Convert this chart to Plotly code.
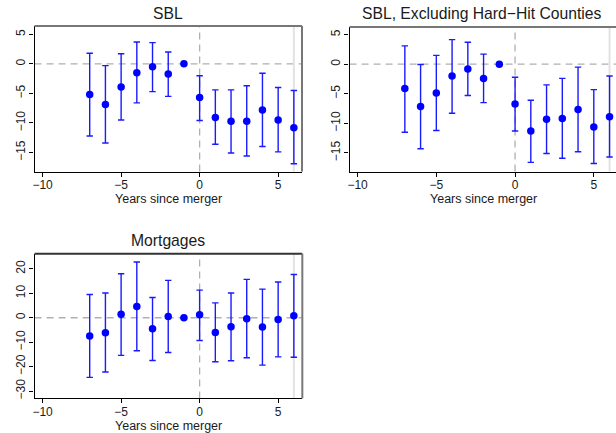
import plotly.graph_objects as go

# ---------------- data ----------------
years = [-7, -6, -5, -4, -3, -2, -1, 0, 1, 2, 3, 4, 5, 6]

sbl_est = [-5.2, -6.9, -3.9, -1.5, -0.5, -1.7, 0.0, -5.7, -9.1, -9.7, -9.7, -7.8, -9.5, -10.8]
sbl_hi = [1.8, -0.3, 1.7, 3.7, 3.6, 2.0, None, -2.0, -4.4, -4.4, -3.7, -1.6, -4.0, -4.5]
sbl_lo = [-12.2, -13.4, -9.5, -6.6, -4.7, -5.5, None, -9.6, -13.6, -15.1, -15.6, -14.0, -14.9, -16.9]

excl_est = [-4.1, -7.15, -4.85, -2.0, -0.8, -2.4, 0.0, -6.75, -11.3, -9.3, -9.2, -7.65, -10.6, -8.9]
excl_hi = [3.1, -0.05, 1.5, 4.15, 3.7, 1.7, None, -2.2, -6.1, -3.5, -2.4, -0.5, -4.3, -2.0]
excl_lo = [-11.5, -14.3, -11.2, -8.3, -5.3, -6.5, None, -11.3, -16.6, -15.1, -15.9, -14.8, -16.8, -15.7]

mort_est = [-7.5, -6.1, 1.4, 4.6, -4.5, 0.5, 0.0, 1.2, -6.0, -3.7, -0.4, -3.8, -0.7, 0.8]
mort_hi = [9.5, 10.1, 18.0, 22.8, 8.3, 15.3, None, 11.3, 6.1, 10.1, 15.7, 11.7, 14.6, 17.7]
mort_lo = [-24.4, -22.2, -15.4, -13.5, -17.5, -14.2, None, -9.3, -18.0, -17.6, -16.4, -19.4, -16.0, -16.2]

titles = ["SBL", "SBL, Excluding Hard\u2212Hit Counties", "Mortgages"]
x_label = "Years since merger"
x_ticks = [-10, -5, 0, 5]
sbl_y_ticks = [-15, -10, -5, 0, 5]
mort_y_ticks = [-30, -20, -10, 0, 10, 20]

# ---------------- layout helpers ----------------
W, H = 616, 433
FONT = "Liberation Sans, Arial, sans-serif"
TXT = "#1a1a1a"


def fx(px):
    return px / W


def fy(py):
    return 1 - py / H


def errs(est, hi, lo):
    plus = [None if h is None else h - e for e, h in zip(est, hi)]
    minus = [None if l is None else e - l for e, l in zip(est, lo)]
    return plus, minus


panels = [
    dict(est=sbl_est, hi=sbl_hi, lo=sbl_lo, title=titles[0], xd=(32.7, 301.0), yd=(26.0, 172.0),
         xr=(-10.51, 6.52), yr=(-18.24, 6.42), yt=sbl_y_ticks, tx=167, ty=14, lx=167,
         right=True, topc="#777777"),
    dict(est=excl_est, hi=excl_hi, lo=excl_lo, title=titles[1], xd=(348.7, 616.0), yd=(27.0, 172.0),
         xr=(-10.51, 6.41), yr=(-18.16, 6.30), yt=sbl_y_ticks, tx=482, ty=14, lx=483,
         right=False, topc="#777777"),
    dict(est=mort_est, hi=mort_hi, lo=mort_lo, title=titles[2], xd=(32.7, 301.3), yd=(254.3, 399.3),
         xr=(-10.51, 6.54), yr=(-33.0, 26.2), yt=mort_y_ticks, tx=167, ty=241, lx=167,
         right=True, topc="#333333"),
]

fig = go.Figure()
shapes = []
annotations = []
layout_axes = {}

for i, p in enumerate(panels):
    sfx = "" if i == 0 else str(i + 1)
    xa, ya = "x" + sfx, "y" + sfx
    plus, minus = errs(p["est"], p["hi"], p["lo"])
    fig.add_trace(go.Scatter(
        x=years, y=p["est"], mode="markers",
        marker=dict(color="#0000ff", size=7.5),
        error_y=dict(type="data", array=plus, arrayminus=minus, color="#1a1aff",
                     thickness=1.4, width=3.2, symmetric=False),
        xaxis=xa, yaxis=ya, showlegend=False, hoverinfo="x+y",
    ))
    layout_axes["xaxis" + sfx] = dict(
        domain=[fx(p["xd"][0]), fx(p["xd"][1])], range=list(p["xr"]), anchor=ya,
        tickvals=x_ticks, ticks="outside", ticklen=4, tickcolor="black", tickwidth=1,
        ticklabelstandoff=-2,
        showline=True, linecolor="black", linewidth=1.2, showgrid=False, zeroline=False,
        tickfont=dict(family=FONT, size=12, color=TXT), fixedrange=True,
    )
    layout_axes["yaxis" + sfx] = dict(
        domain=[fy(p["yd"][1]), fy(p["yd"][0])], range=list(p["yr"]), anchor=xa,
        tickvals=p["yt"], tickangle=-90, ticks="outside", ticklen=4, tickcolor="black", tickwidth=1,
        showline=True, linecolor="black", linewidth=1.2, showgrid=False, zeroline=False,
        tickfont=dict(family=FONT, size=12, color=TXT), fixedrange=True,
    )
    xd, yd = xa + " domain", ya + " domain"
    # reference lines
    shapes.append(dict(type="line", xref=xd, yref=ya, x0=0, x1=1, y0=0, y1=0, layer="below",
                       line=dict(color="#b0b0b0", width=1.3, dash="7px,5px")))
    shapes.append(dict(type="line", xref=xa, yref=yd, x0=0, x1=0, y0=0, y1=1, layer="below",
                       line=dict(color="#b0b0b0", width=1.3, dash="7px,5px")))
    shapes.append(dict(type="line", xref=xa, yref=yd, x0=6, x1=6, y0=0, y1=1, layer="below",
                       line=dict(color="#e2e2e2", width=2)))
    # frame: top and right
    shapes.append(dict(type="line", xref=xd, yref=yd, x0=0, x1=1, y0=1, y1=1,
                       line=dict(color=p["topc"], width=2)))
    if p["right"]:
        shapes.append(dict(type="line", xref=xd, yref=yd, x0=1, x1=1, y0=0, y1=1,
                           line=dict(color="#777777", width=2)))
    # titles
    annotations.append(dict(text=p["title"], xref="paper", yref="paper", x=fx(p["tx"]), y=fy(p["ty"]),
                            xanchor="center", yanchor="middle", showarrow=False,
                            font=dict(family=FONT, size=15.7, color=TXT)))
    annotations.append(dict(text=x_label, xref="paper", yref="paper",
                            x=fx(p["lx"]), y=fy(p["yd"][1] + 27.5),
                            xanchor="center", yanchor="middle", showarrow=False,
                            font=dict(family=FONT, size=12.5, color=TXT)))

fig.update_layout(
    width=W, height=H, margin=dict(l=0, r=0, t=0, b=0),
    paper_bgcolor="white", plot_bgcolor="white",
    shapes=shapes, annotations=annotations, showlegend=False,
    **layout_axes,
)

fig.write_html(
    "out.html",
    config={"displayModeBar": False},
    post_script="document.body.style.margin='0';document.body.style.overflow='hidden';",
)
